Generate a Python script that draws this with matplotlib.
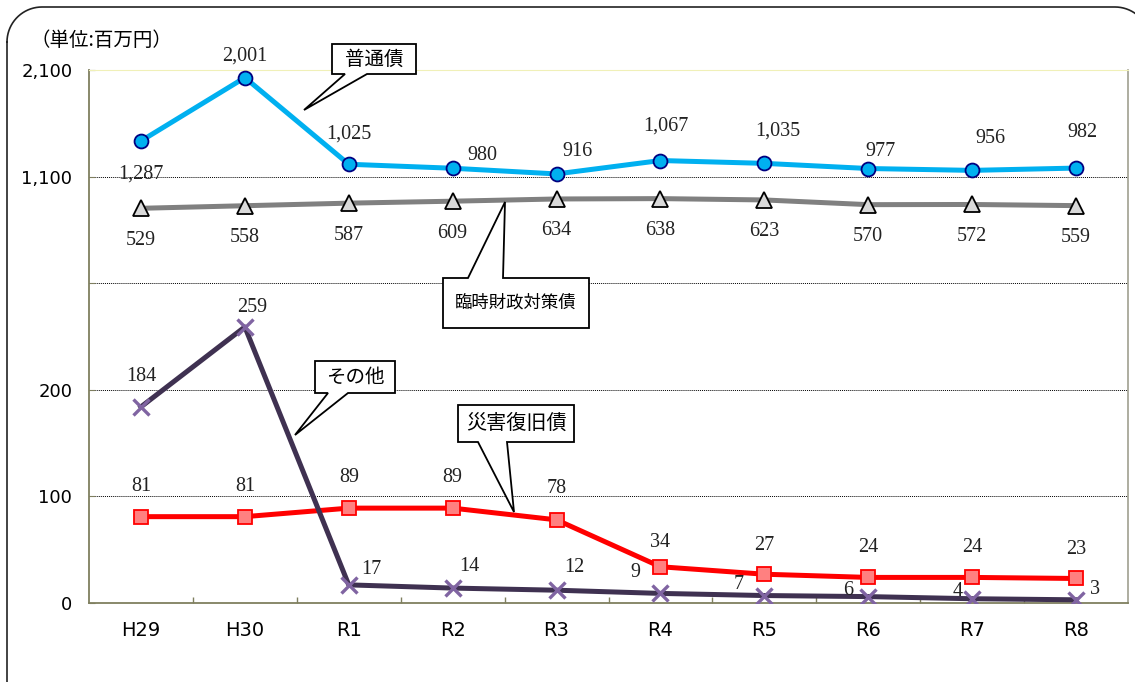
import matplotlib.pyplot as plt
import matplotlib.transforms as mtransforms
from matplotlib.patches import Polygon
from matplotlib.lines import Line2D
import numpy as np

plt.rcParams["font.family"] = ["Noto Sans CJK JP", "DejaVu Sans"]

YEARS = ["H29", "H30", "R1", "R2", "R3", "R4", "R5", "R6", "R7", "R8"]
FUTSU = [1287, 2001, 1025, 980, 916, 1067, 1035, 977, 956, 982]      # 普通債
RINJI = [529, 558, 587, 609, 634, 638, 623, 570, 572, 559]           # 臨時財政対策債
SAIGAI = [81, 81, 89, 89, 78, 34, 27, 24, 24, 23]                    # 災害復旧債
SONOTA = [184, 259, 17, 14, 12, 9, 7, 6, 4, 3]                       # その他

# y-axis is broken: 0-300 linear, upper band compressed
YTICKS = [0, 100, 200, 300, 400, 500]
YTICKLABELS = ["0", "100", "200", "", "1,100", "2,100"]

# label offsets in pixels (dx, dy)
OFF_FUTSU = [(0, -33), (0, 22), (0, 30), (30, 13), (21, 22), (5, 34), (13, 32), (12, 17), (18, 32), (6, 36)]
OFF_RINJI = [(0, -32)] * 10
OFF_SAIGAI = [(0, 30), (0, 30), (0, 31), (0, 31), (0, 31), (0, 24), (0, 29), (0, 30), (0, 30), (0, 29)]
OFF_SONOTA = [(0, 30), (7, 19), (23, 15), (17, 22), (18, 23), (-25, 21), (-26, 11), (-20, 6), (-14, 7), (19, 10)]


def upper(v):
    return 326.2 + 0.0833 * np.asarray(v, dtype=float)


W, H = 1135, 682
fig = plt.figure(figsize=(W / 100, H / 100), dpi=100)
ax = fig.add_axes([89 / W, 1 - 603 / H, (1128 - 89) / W, (603 - 70) / H])
px = mtransforms.Affine2D().scale(1 / W, -1 / H).translate(0, 1) + fig.transFigure

x = np.arange(len(YEARS))
ax.set_xlim(-0.5, len(YEARS) - 0.5)
ax.set_ylim(0, 500)

for g in [100, 200, 300, 400]:
    ax.axhline(g, color="black", lw=0.7, ls=(0, (1, 1)), zorder=1)

series = [
    (upper(FUTSU), FUTSU, OFF_FUTSU, dict(color="#00b0f0", marker="o", ms=10, mfc="#00b0f0", mec="#000080", mew=1.3)),
    (upper(RINJI), RINJI, OFF_RINJI, dict(color="#808080", marker="^", ms=11, mfc="#d9d9d9", mec="black", mew=1.3)),
    (np.array(SAIGAI, float), SAIGAI, OFF_SAIGAI, dict(color="#ff0000", marker="s", ms=9.5, mfc="#ff8080", mec="#ff0000", mew=1.3)),
    (np.array(SONOTA, float), SONOTA, OFF_SONOTA, dict(color="#3f3151", marker="x", ms=11.5, mfc="#8064a2", mec="#8064a2", mew=2.4)),
]
for ys, vals, offs, style in series:
    ax.plot(x, ys, lw=3.6, zorder=3, **style)
    for xi, yi, v, (dx, dy) in zip(x, ys, vals, offs):
        ax.annotate(f"{v:,}", (xi, yi), xytext=(dx, dy), textcoords="offset pixels",
                    ha="center", va="center", fontsize=14.5, family="Liberation Serif",
                    color="#222222", zorder=4)

ax.set_xticks(x)
ax.set_xticklabels(YEARS, fontsize=14, family="DejaVu Sans")
ax.set_xticks(x[:-1] + 0.5, minor=True)
ax.tick_params(axis="x", which="major", length=0, pad=13)
ax.tick_params(axis="x", which="minor", length=4, direction="in", color="#7f7f5f", width=1)
ax.set_yticks(YTICKS)
ax.set_yticklabels(YTICKLABELS, fontsize=13, family="DejaVu Sans")
ax.tick_params(axis="y", length=4, direction="in", color="#7f7f5f", pad=12)

for s in ["left", "bottom"]:
    ax.spines[s].set_color("#7f7f5f")
    ax.spines[s].set_linewidth(1.3)
ax.spines["top"].set_color("#f0f0b8")
ax.spines["right"].set_color("#a0a090")
ax.spines["right"].set_linewidth(1.2)


def callout(text, box, base, tip, fs):
    x0, y0, x1, y1 = box
    bx0, bx1 = base
    if tip[1] > y1:
        pts = [(x0, y0), (x1, y0), (x1, y1), (bx1, y1), tip, (bx0, y1), (x0, y1)]
    else:
        pts = [(x0, y0), (bx0, y0), tip, (bx1, y0), (x1, y0), (x1, y1), (x0, y1)]
    poly = Polygon(pts, closed=True, transform=px, fc="white", ec="black", lw=1.3,
                   clip_on=False, zorder=6, joinstyle="miter")
    fig.add_artist(poly)
    fig.text((x0 + x1) / 2 / W, 1 - (y0 + y1) / 2 / H, text, ha="center", va="center",
             fontsize=fs, zorder=7)


callout("普通債", (332, 44, 416, 74), (345, 367), (304, 110), 14)
callout("臨時財政対策債", (443, 278, 589, 328), (468, 503), (505, 202), 12.5)
callout("その他", (315, 361, 395, 393), (328, 348), (295, 435), 14)
callout("災害復旧債", (458, 405, 574, 442), (478, 507), (514, 512), 14.5)

fig.text(101 / W, 1 - 40 / H, "（単位:百万円）", ha="center", va="center", fontsize=14)

# outer rounded frame (pixel coords, y down); right and bottom edges run off the canvas
L, T, R, B, RAD = 7, 7, 1150, 717, 35
t = np.linspace(0, np.pi / 2, 20)
fx = np.concatenate([
    L + RAD - RAD * np.cos(t),          # top-left corner
    R - RAD + RAD * np.sin(t),          # top-right corner
    R - RAD + RAD * np.cos(t),          # bottom-right corner
    L + RAD - RAD * np.sin(t),          # bottom-left corner
    [L],
])
fy = np.concatenate([
    T + RAD - RAD * np.sin(t),
    T + RAD - RAD * np.cos(t),
    B - RAD + RAD * np.sin(t),
    B - RAD + RAD * np.cos(t),
    [T + RAD],
])
fig.add_artist(Line2D(fx, fy, transform=px, color="#222222", lw=1.2, clip_on=False))

fig.savefig("out.png", dpi=100)
